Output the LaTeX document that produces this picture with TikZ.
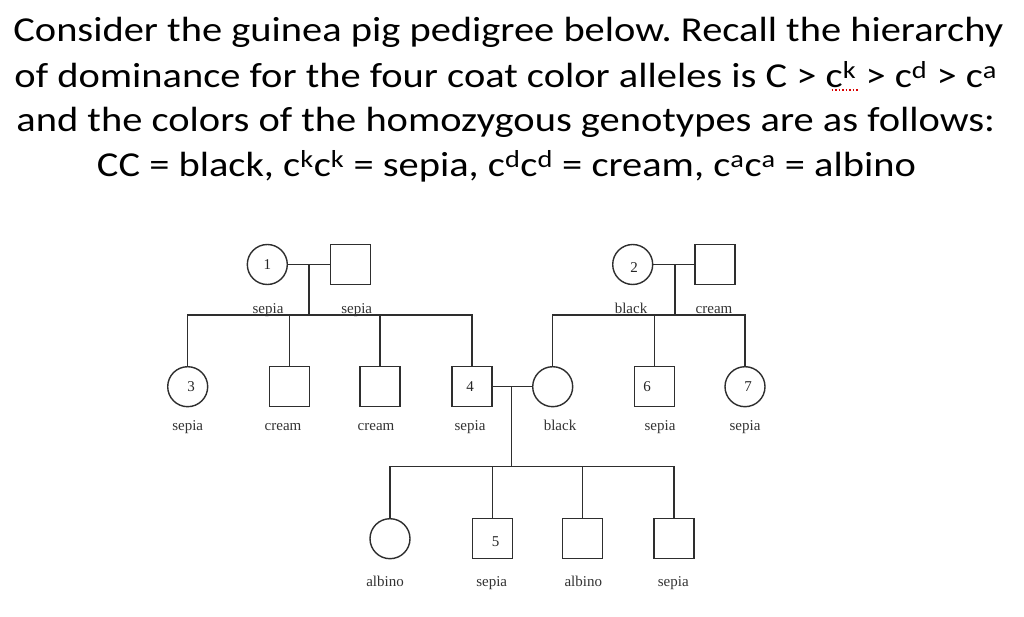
\documentclass[tikz,border=0pt]{standalone}
\usepackage{fontspec}
\setmainfont{Carlito}
\newfontfamily\pedfont{Liberation Serif}
\newcommand\supx[1]{\textsuperscript{#1}}
\newcommand\hstretch[1]{\scalebox{1.156}[1]{#1}}
\frenchspacing
\begin{document}
\begin{tikzpicture}[x=1pt,y=-1pt,
  title/.style={anchor=base,inner sep=0pt,font=\fontsize{35}{42}\selectfont},
  fem/.style={circle,draw,minimum size=40pt,inner sep=0pt},
  mal/.style={rectangle,draw,minimum size=40pt,inner sep=0pt},
  num/.style={inner sep=0pt,font=\pedfont\fontsize{15}{15}\selectfont,text=black!85},
  lbl/.style={anchor=base,inner sep=0pt,font=\pedfont\fontsize{15}{15}\selectfont,text=black!80},
  ped/.style={line width=1.4pt,draw=black!82}]
\useasboundingbox[fill=white] (0,0) rectangle (1024,617);

% header
\node[title] (t1) at (508.3,41.7) {\hstretch{Consider the guinea pig pedigree below. Recall the hierarchy}};
\node[title] (t2) at (505.8,87.3) {\hstretch{of dominance for the four coat color alleles is C > c\supx{k} > c\supx{d} > c\supx{a}}};
\node[title] (t3) at (505.8,131.7) {\hstretch{and the colors of the homozygous genotypes are as follows:}};
\node[title] (t4) at (506.5,176.7) {\hstretch{CC = black, c\supx{k}c\supx{k} = sepia, c\supx{d}c\supx{d} = cream, c\supx{a}c\supx{a} = albino}};
\draw[red!85!black,dotted,line width=1.5pt] (831.7,90) -- (858.3,90);

\begin{scope}[every node/.append style={ped}]
% generation I
\node[fem] (f1) at (267.3,264.5) {};
\node[mal] (m1) at (350.7,264.5) {};
\node[fem] (f2) at (632.7,264.5) {};
\node[mal] (m5) at (715,264.5) {};
% generation II
\node[fem] (f3) at (187.7,386.7) {};
\node[mal] (m2) at (289.3,386.7) {};
\node[mal] (m3) at (380,386.7) {};
\node[mal] (m4) at (472,386.7) {};
\node[fem] (fb) at (552.7,386.7) {};
\node[mal] (m6) at (654.7,386.7) {};
\node[fem] (f7) at (745,386.7) {};
% generation III
\node[fem] (f8) at (390,538.7) {};
\node[mal] (m7) at (492.3,538.7) {};
\node[mal] (m8) at (582.7,538.7) {};
\node[mal] (m9) at (674,538.7) {};
\end{scope}

% numbers
\node[num] (n1) at (267.3,264.5) {1};
\node[num] (n2) at (634,268) {2};
\node[num] (n3) at (191,386.7) {3};
\node[num] (n4) at (470,386.7) {4};
\node[num] (n6) at (647,386.7) {6};
\node[num] (n7) at (748,386.7) {7};
\node[num] (n5) at (495.7,542) {5};

% connection points
\coordinate (c1) at (309,264.5);
\coordinate (s1) at (309,315);
\coordinate (c2) at (675,264.5);
\coordinate (s2) at (675,315);
\coordinate (c3) at (511.7,386.7);
\coordinate (s3) at (511.7,466.7);

% lines family 1
\draw[ped] (f1) -- (m1);
\draw[ped] (c1) -- (s1);
\draw[ped] (f3.north) |- (s1) -| (m4.north);
\draw[ped] (m2.north) -- (m2.north |- s1);
\draw[ped] (m3.north) -- (m3.north |- s1);
% lines family 2
\draw[ped] (f2) -- (m5);
\draw[ped] (c2) -- (s2);
\draw[ped] (fb.north) |- (s2) -| (f7.north);
\draw[ped] (m6.north) -- (m6.north |- s2);
% lines family 3
\draw[ped] (m4) -- (fb);
\draw[ped] (c3) -- (s3);
\draw[ped] (f8.north) |- (s3) -| (m9.north);
\draw[ped] (m7.north) -- (m7.north |- s3);
\draw[ped] (m8.north) -- (m8.north |- s3);

% labels
\node[lbl] (l1) at (268,313.5) {sepia};
\node[lbl] (l2) at (356.7,313.5) {sepia};
\node[lbl] (l3) at (631,313.5) {black};
\node[lbl] (l4) at (714,313.5) {cream};
\node[lbl] (l5) at (187.7,430) {sepia};
\node[lbl] (l6) at (283,430) {cream};
\node[lbl] (l7) at (376,430) {cream};
\node[lbl] (l8) at (470,430) {sepia};
\node[lbl] (l9) at (560,430) {black};
\node[lbl] (l10) at (660,430) {sepia};
\node[lbl] (l11) at (745,430) {sepia};
\node[lbl] (l12) at (385,586) {albino};
\node[lbl] (l13) at (491.7,586) {sepia};
\node[lbl] (l14) at (583.3,586) {albino};
\node[lbl] (l15) at (673.3,586) {sepia};
\end{tikzpicture}
\end{document}
